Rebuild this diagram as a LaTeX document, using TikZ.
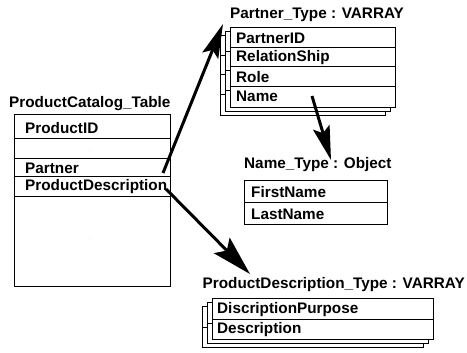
\documentclass[tikz,border=0pt]{standalone}
\usepackage{fontspec}
\setmainfont{Liberation Sans}
\usetikzlibrary{arrows.meta}
\tikzset{
  lbl/.style={anchor=west, inner sep=0pt, font=\fontsize{15.3}{16}\selectfont\bfseries},
  cell/.style={anchor=west, inner sep=0pt, font=\fontsize{15.3}{16}\selectfont\bfseries},
  frame/.style={draw=black, line width=1pt, fill=white},
  rowline/.style={draw=black, line width=1pt},
  bigarrow/.style={line width=3pt, -{Stealth[length=34pt, width=17pt, inset=6pt]}},
  bigarrowL/.style={line width=3pt, -{Stealth[length=40pt, width=22pt, inset=7pt]}},
  faint/.style={text=black!25, font=\tiny, inner sep=0pt}
}
\begin{document}
\begin{tikzpicture}[x=1pt,y=-1pt]
\useasboundingbox (0,0) rectangle (467,353);

% ---------- ProductCatalog_Table ----------
\node[lbl] (pctl) at (9,104) {ProductCatalog\_Table};
\draw[frame] (14,115) rectangle (170,287);
\draw[rowline] (14,139) -- (170,139);
\draw[rowline] (14,159) -- (170,159);
\draw[rowline] (14,177) -- (170,177);
\draw[rowline] (14,197) -- (170,197);
\begin{scope}
\clip (14,115) rectangle (169.5,287);
\node[cell] (pid) at (25,128) {ProductID};
\node[cell] (ppart) at (25,168) {Partner};
\node[cell] (pdesc) at (25,187) {ProductDescription};
\end{scope}
\node[faint] (d1) at (90,150) {:};
\node[faint] (d2) at (90,238) {:};
\coordinate (partnerR) at (163,173);
\coordinate (descR) at (166,189);

% ---------- Partner_Type : VARRAY ----------
\node[lbl] (ptl) at (230,15) {Partner\_Type : VARRAY};
\foreach \dx/\dy in {-10/8,-5/4}{
  \draw[frame] (230+\dx,28+\dy) rectangle (395+\dx,108+\dy);
  \foreach \yy in {48,67,87}
    \draw[rowline] (230+\dx,\yy+\dy) -- (395+\dx,\yy+\dy);
}
\draw[frame] (230,28) rectangle (395,108);
\draw[rowline] (230,48) -- (395,48);
\draw[rowline] (230,67) -- (395,67);
\draw[rowline] (230,87) -- (395,87);
\node[cell] (pt1) at (236,38.5) {PartnerID};
\node[cell] (pt2) at (236,57.5) {RelationShip};
\node[cell] (pt3) at (236,77) {Role};
\node[cell] (pt4) at (236,96.5) {Name};
\coordinate (ptTip) at (223,24);
\coordinate (nameS) at (312,96);

% ---------- Name_Type : Object ----------
\node[lbl] (ntl) at (244,165) {Name\_Type : Object};
\draw[frame] (244,181) rectangle (387,225);
\draw[rowline] (244,203) -- (387,203);
\node[cell] (nt1) at (251,192) {FirstName};
\node[cell] (nt2) at (251,214) {LastName};
\coordinate (ntTip) at (331,160);

% ---------- ProductDescription_Type : VARRAY ----------
\node[lbl, anchor=east] (pdl) at (465,285) {ProductDescription\_Type : VARRAY};
\foreach \dx/\dy in {-10/8,-5/4}{
  \draw[frame] (212+\dx,299+\dy) rectangle (433+\dx,340+\dy);
  \draw[rowline] (212+\dx,320+\dy) -- (433+\dx,320+\dy);
}
\draw[frame] (212,299) rectangle (433,340);
\draw[rowline] (212,320) -- (433,320);
\node[cell] (pd1) at (217,310) {DiscriptionPurpose};
\node[cell] (pd2) at (217,330) {Description};
\coordinate (pdTip) at (250,274);

% ---------- arrows ----------
\draw[bigarrow] (partnerR) -- (ptTip);
\draw[bigarrow] (nameS) -- (ntTip);
\draw[bigarrowL] (descR) -- (pdTip);
\end{tikzpicture}
\end{document}
